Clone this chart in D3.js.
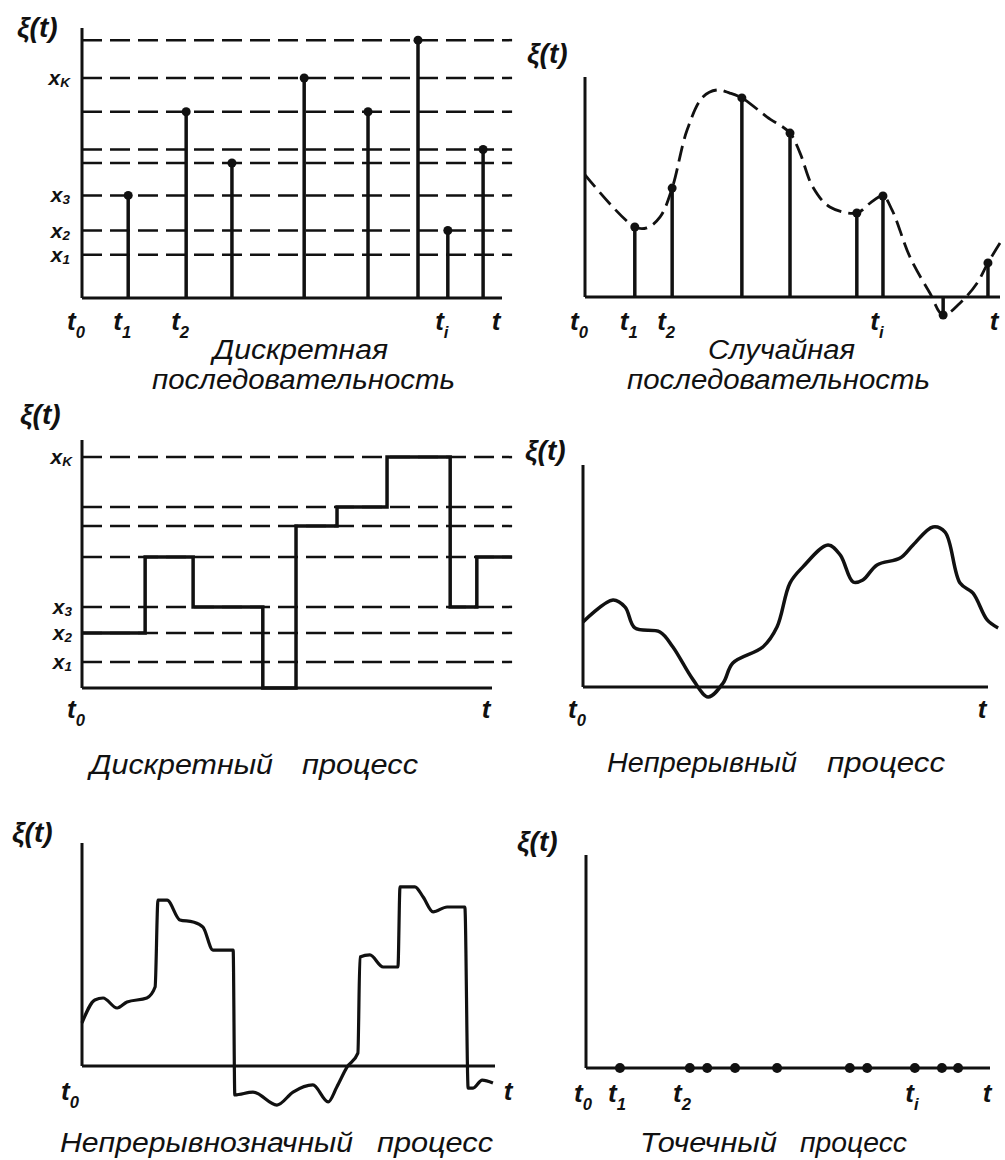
<!DOCTYPE html>
<html>
<head>
<meta charset="utf-8">
<script src="https://cdn.jsdelivr.net/npm/d3@7"></script>
<style>
  body { margin: 0; background: #fff; }
  svg { display: block; }
  text { font-family: "Liberation Sans", Arial, sans-serif; font-style: italic; fill: #111; }
</style>
</head>
<body>
<svg width="1005" height="1160"></svg>
<script>
// --- panel 1: discrete sequence
const p1Levels = [9.55, 8.15, 6.9, 5.5, 5.0, 3.8, 2.5, 1.6];
const p1StemT = [1.10, 2.48, 3.57, 5.29, 6.81, 8.0, 8.71, 9.55];
const p1StemV = [3.8, 6.9, 5.0, 8.15, 6.9, 9.55, 2.5, 5.5];
const p1LevelMarks = [8.15, 3.8, 2.5, 1.6];
const p1LevelNames = ['K', '3', '2', '1'];
const p1Ticks = [0, 1.10, 2.48, 8.71, 10];
const p1TickNames = ['0', '1', '2', 'i', ''];

// --- panel 2: random sequence
const p2CurveT = [0, 1.20, 1.49, 1.81, 2.10, 2.46, 2.84, 3.18, 3.49, 3.78, 4.39, 4.94, 5.18, 5.49, 5.90, 6.55, 6.87, 7.18, 7.40, 7.83, 8.31, 8.63, 9.04, 9.45, 9.71, 10];
const p2CurveV = [5.55, 3.18, 3.14, 3.64, 4.95, 7.59, 9.09, 9.41, 9.27, 9.05, 8.18, 7.45, 6.55, 5.0, 4.09, 3.82, 4.27, 4.59, 3.95, 1.82, 0.18, -0.82, -0.27, 0.64, 1.55, 2.45];
const p2SampleT = [1.20, 2.10, 3.78, 4.94, 6.55, 7.18, 8.63, 9.71];
const p2SampleV = [3.18, 4.95, 9.05, 7.45, 3.82, 4.59, -0.82, 1.55];
const p2Ticks = [0, 1.20, 2.10, 7.18, 10];
const p2TickNames = ['0', '1', '2', 'i', ''];

// --- panel 3: discrete process
const p3Levels = [9.31, 7.30, 6.53, 5.28, 3.27, 2.22, 1.05];
const p3StepT = [0, 1.54, 2.71, 4.41, 5.22, 6.22, 7.44, 8.98, 9.63, 10.49];
const p3StepV = [2.22, 5.28, 3.27, 0, 6.53, 7.30, 9.31, 3.27, 5.28, 5.28];
const p3LevelMarks = [9.31, 3.27, 2.22, 1.05];
const p3LevelNames = ['K', '3', '2', '1'];

// --- panel 4: continuous process
const p4T = [0, 0.74, 1.04, 1.28, 1.90, 2.22, 2.72, 3.09, 3.46, 3.70, 4.44, 4.79, 5.11, 5.43, 6.05, 6.35, 6.67, 6.91, 7.26, 7.83, 8.15, 8.64, 8.94, 9.31, 9.63, 9.98, 10.25];
const p4V = [2.93, 3.92, 3.60, 2.66, 2.48, 1.80, 0.32, -0.45, 0.18, 1.08, 1.80, 2.70, 4.68, 5.41, 6.40, 5.95, 4.73, 4.82, 5.50, 5.81, 6.40, 7.21, 6.98, 4.68, 4.23, 3.02, 2.66];

// --- panel 5: continuous-valued process
const p5T = [0, 0.31, 0.51, 0.85, 1.09, 1.57, 1.77, 1.84, 2.06, 2.37, 2.69, 2.93, 3.17, 3.66, 3.70, 4.14, 4.72, 5.11, 5.59, 5.96, 6.17, 6.42, 6.68, 6.73, 6.97, 7.29, 7.65, 7.70, 8.06, 8.26, 8.50, 8.84, 9.27, 9.35, 9.47, 9.69, 9.95];
const p5V = [1.93, 2.96, 3.05, 2.60, 2.87, 3.05, 3.54, 7.44, 7.44, 6.55, 6.46, 6.23, 5.20, 5.20, -1.30, -1.17, -1.75, -1.17, -0.85, -1.61, -0.94, -0.04, 0.58, 4.89, 4.98, 4.44, 4.44, 8.03, 8.03, 7.58, 6.91, 7.13, 7.13, -0.99, -0.99, -0.63, -0.76];

// --- panel 6: point process
const p6T = [0.84, 2.57, 3.0, 3.69, 4.73, 6.53, 6.96, 8.14, 8.81, 9.21];
const p6Ticks = [0, 0.84, 2.45, 8.14, 10];
const p6TickNames = ['0', '1', '2', 'i', ''];

const ink = '#111';
const svg = d3.select('svg');

function panel(left, right, base, top) {
  const x = d3.scaleLinear().domain([0, 10]).range([left, right]);
  const y = d3.scaleLinear().domain([0, 10]).range([base, top]);
  const g = svg.append('g');
  return { g, x, y };
}

function axes(p) {
  p.g.append('line')
    .attr('x1', p.x(0)).attr('x2', p.x(0)).attr('y1', p.y(10)).attr('y2', p.y(0))
    .attr('stroke', ink).attr('stroke-width', 3);
  p.g.append('line')
    .attr('x1', p.x(0)).attr('x2', p.x(10)).attr('y1', p.y(0)).attr('y2', p.y(0))
    .attr('stroke', ink).attr('stroke-width', 3);
}

function sym(g, x, y, main, sub, size, anchor, drop) {
  const t = g.append('text').attr('x', x).attr('y', y)
    .attr('font-size', size).attr('font-weight', 'bold')
    .attr('text-anchor', anchor || 'start');
  t.append('tspan').text(main);
  if (sub) t.append('tspan').attr('dy', drop == null ? size * 0.3 : drop).attr('font-size', size * 0.64).text(sub);
  return t;
}

function xiLabel(g, x, y) {
  g.append('text').attr('x', x).attr('y', y).attr('font-size', 28).attr('font-weight', 'bold').text('ξ(t)');
}

function ticks(p, vals, names, yy, shift) {
  vals.forEach((v, i) => sym(p.g, p.x(v) + shift, yy, 't', names[i], 26, 'middle'));
}

function levels(p, vals, end) {
  p.g.selectAll(null).data(vals).enter().append('line')
    .attr('x1', p.x(0)).attr('x2', p.x(end))
    .attr('y1', d => p.y(d)).attr('y2', d => p.y(d))
    .attr('stroke', ink).attr('stroke-width', 2.5).attr('stroke-dasharray', '20,8');
}

function levelNames(p, vals, names, xx) {
  vals.forEach((v, i) => sym(p.g, xx, p.y(v) + 7, 'x', names[i], 21, 'end', 2));
}

function caption(g, words) {
  words.forEach(w => g.append('text')
    .attr('x', w[1]).attr('y', w[2]).attr('font-size', 27)
    .attr('textLength', w[3]).attr('lengthAdjust', 'spacingAndGlyphs').text(w[0]));
}

// panel 1
const p1 = panel(82, 502, 298, 28);
levels(p1, p1Levels, 10.24);
axes(p1);
p1.g.selectAll(null).data(p1StemT).enter().append('line')
  .attr('x1', d => p1.x(d)).attr('x2', d => p1.x(d))
  .attr('y1', p1.y(0)).attr('y2', (d, i) => p1.y(p1StemV[i]))
  .attr('stroke', ink).attr('stroke-width', 3.5);
p1.g.selectAll(null).data(p1StemT).enter().append('circle')
  .attr('cx', d => p1.x(d)).attr('cy', (d, i) => p1.y(p1StemV[i])).attr('r', 4.5).attr('fill', ink);
xiLabel(p1.g, 17, 37);
levelNames(p1, p1LevelMarks, p1LevelNames, 70);
ticks(p1, p1Ticks, p1TickNames, 330, -6);
caption(p1.g, [['Дискретная', 213, 359, 175], ['последовательность', 152, 389, 303]]);

// panel 2
const p2 = panel(585, 1000, 297, 77);
axes(p2);
p2.g.append('path')
  .datum(p2CurveT.map((t, i) => [t, p2CurveV[i]]))
  .attr('d', d3.line().x(d => p2.x(d[0])).y(d => p2.y(d[1])).curve(d3.curveCatmullRom))
  .attr('fill', 'none').attr('stroke', ink).attr('stroke-width', 2.8).attr('stroke-dasharray', '16,7');
p2.g.selectAll(null).data(p2SampleT).enter().append('line')
  .attr('x1', d => p2.x(d)).attr('x2', d => p2.x(d))
  .attr('y1', p2.y(0)).attr('y2', (d, i) => p2.y(p2SampleV[i]))
  .attr('stroke', ink).attr('stroke-width', 3.5);
p2.g.selectAll(null).data(p2SampleT).enter().append('circle')
  .attr('cx', d => p2.x(d)).attr('cy', (d, i) => p2.y(p2SampleV[i])).attr('r', 4.5).attr('fill', ink);
xiLabel(p2.g, 527, 63);
ticks(p2, p2Ticks, p2TickNames, 330, -6);
caption(p2.g, [['Случайная', 708, 359, 147], ['последовательность', 627, 389, 303]]);

// panel 3
const p3 = panel(82, 492, 688, 440);
levels(p3, p3Levels, 10.49);
axes(p3);
p3.g.append('path')
  .datum(p3StepT.map((t, i) => [t, p3StepV[i]]))
  .attr('d', d3.line().x(d => p3.x(d[0])).y(d => p3.y(d[1])).curve(d3.curveStepAfter))
  .attr('fill', 'none').attr('stroke', ink).attr('stroke-width', 3.5);
xiLabel(p3.g, 20, 424);
levelNames(p3, p3LevelMarks, p3LevelNames, 72);
ticks(p3, [0, 10], ['0', ''], 718, -6);
caption(p3.g, [['Дискретный', 90, 774, 183], ['процесс', 302, 774, 116]]);

// panel 4
const p4 = panel(583, 988, 687, 465);
axes(p4);
p4.g.append('path')
  .datum(p4T.map((t, i) => [t, p4V[i]]))
  .attr('d', d3.line().x(d => p4.x(d[0])).y(d => p4.y(d[1])).curve(d3.curveCatmullRom))
  .attr('fill', 'none').attr('stroke', ink).attr('stroke-width', 3.5);
xiLabel(p4.g, 525, 460);
ticks(p4, [0, 10], ['0', ''], 718, -6);
caption(p4.g, [['Непрерывный', 607, 772, 190], ['процесс', 827, 772, 118]]);

// panel 5
const p5 = panel(82, 495, 1066, 843);
axes(p5);
p5.g.append('path')
  .datum(p5T.map((t, i) => [t, p5V[i]]))
  .attr('d', d3.line().x(d => p5.x(d[0])).y(d => p5.y(d[1])).curve(d3.curveMonotoneX))
  .attr('fill', 'none').attr('stroke', ink).attr('stroke-width', 3.2);
xiLabel(p5.g, 12, 842);
ticks(p5, [0], ['0'], 1100, -12);
sym(p5.g, 508, 1100, 't', '', 26, 'middle');
caption(p5.g, [['Непрерывнозначный', 60, 1152, 293], ['процесс', 377, 1152, 116]]);

// panel 6
const p6 = panel(586, 990, 1068, 855);
axes(p6);
p6.g.selectAll(null).data(p6T).enter().append('circle')
  .attr('cx', d => p6.x(d)).attr('cy', p6.y(0)).attr('r', 5).attr('fill', ink);
xiLabel(p6.g, 517, 851);
ticks(p6, p6Ticks, p6TickNames, 1102, -3);
caption(p6.g, [['Точечный', 640, 1152, 137], ['процесс', 800, 1152, 107]]);
</script>
</body>
</html>
